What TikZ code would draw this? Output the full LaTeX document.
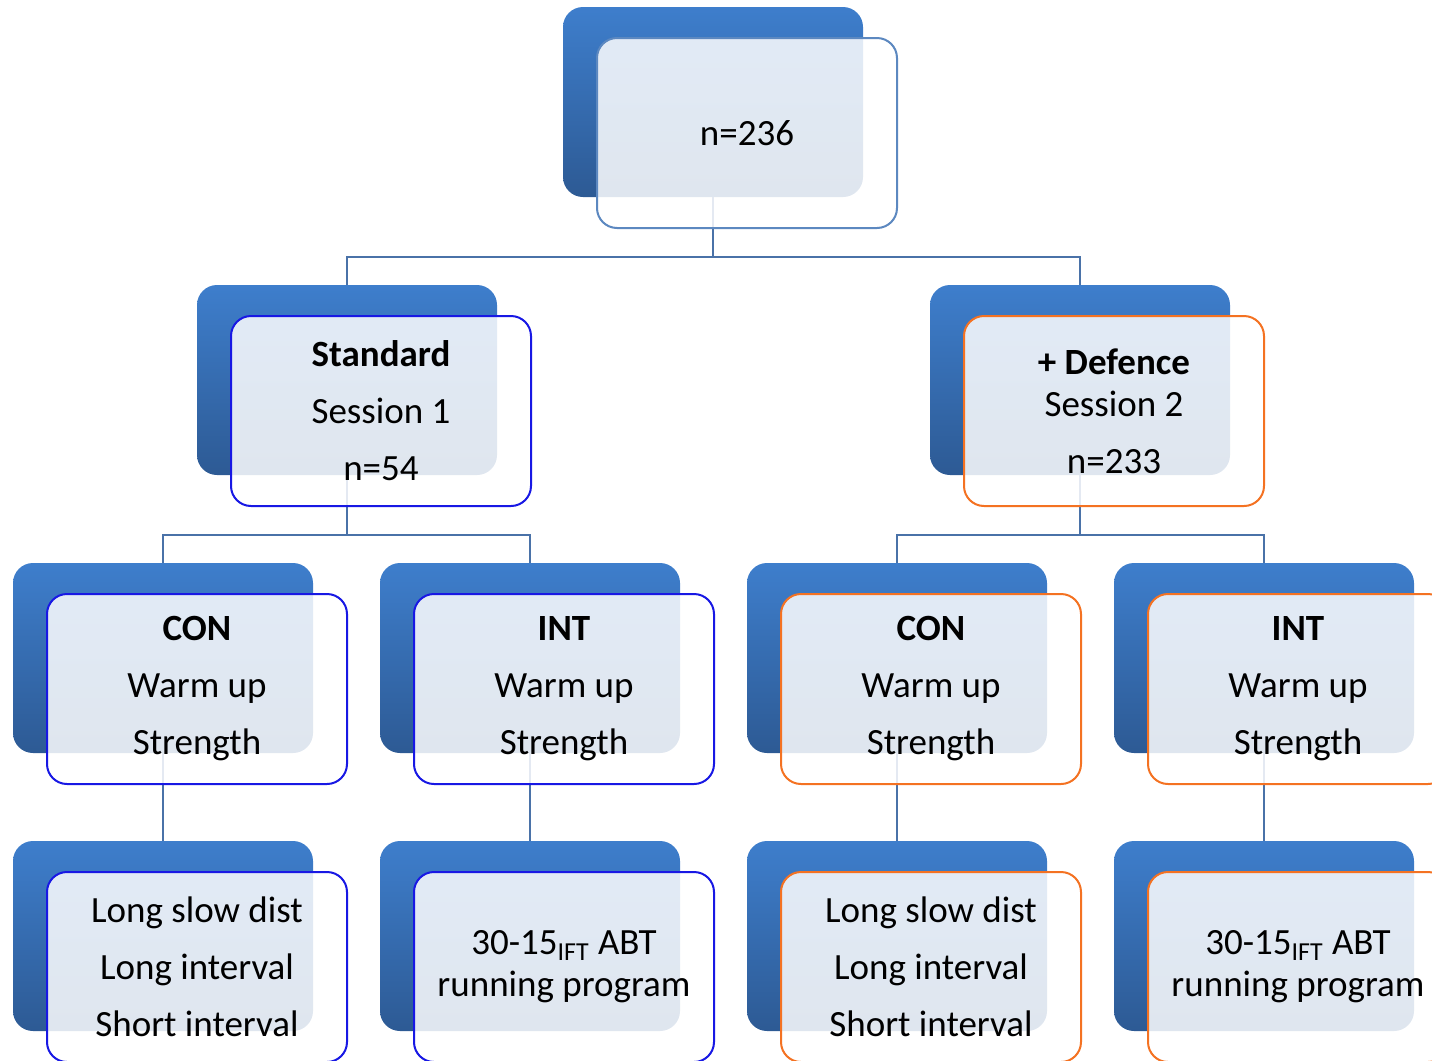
\documentclass[tikz,border=0pt]{standalone}
\usepackage{fontspec}
\setmainfont{Carlito}
\usetikzlibrary{calc}

\definecolor{boxtop}{RGB}{62,126,204}
\definecolor{boxbot}{RGB}{45,90,148}
\definecolor{linkblue}{RGB}{74,114,168}
\definecolor{stdblue}{RGB}{24,24,228}
\definecolor{deforange}{RGB}{244,114,34}
\definecolor{topblue}{RGB}{92,136,192}

\tikzset{
	backbox/.style = {rectangle, rounded corners = 10pt, minimum width = 150pt, minimum height = 95pt,
		top color = boxtop, bottom color = boxbot, draw = none, inner sep = 0pt},
	frontbox/.style = {rectangle, rounded corners = 10pt, minimum width = 150pt, minimum height = 95pt,
		draw = #1, line width = 1pt, fill = white, fill opacity = 0.85, text opacity = 1,
		align = center, font = \fontsize{18.5pt}{21pt}\selectfont, inner sep = 0pt},
	link/.style = {draw = linkblue, line width = 1pt}
}

\begin{document}
\begin{tikzpicture}[x = 0.5pt, y = -0.5pt]
	\useasboundingbox (0, 0) rectangle (1432, 1061);
	\clip (0, 0) rectangle (1432, 1061);
	
	% blue boxes behind
	\node[backbox] (all) at (713, 102) {};
	\node[backbox] (std) at (347, 380) {};
	\node[backbox] (def) at (1080, 380) {};
	\foreach \name/\xx in {stdcon/163, stdint/530, defcon/897, defint/1264} {
		\node[backbox] (\name) at (\xx, 658) {};
		\node[backbox] (\name2) at (\xx, 936) {};
	}
	
	% tree lines
	\draw[link] (all.south) -- ++(0, 60);
	\draw[link] (std.north) |- ($(all.south) + (0, 60)$) -| (def.north);
	\draw[link] (std.south) -- ++(0, 60);
	\draw[link] (stdcon.north) |- ($(std.south) + (0, 60)$) -| (stdint.north);
	\draw[link] (def.south) -- ++(0, 60);
	\draw[link] (defcon.north) |- ($(def.south) + (0, 60)$) -| (defint.north);
	\foreach \name in {stdcon, stdint, defcon, defint}
		\draw[link] (\name.south) -- (\name2.north);
	
	% boxes in front
	\node[frontbox = topblue] (allF) at ($(all) + (34, 31)$) {n=236};
	\node[frontbox = stdblue] (stdF) at ($(std) + (34, 31)$) {\textbf{Standard}\\[7.5pt] Session 1\\[7.5pt] n=54};
	\node[frontbox = deforange] (defF) at ($(def) + (34, 31)$) {\textbf{+ Defence}\\ Session 2\\[7.5pt] n=233};
	
	\node[frontbox = stdblue] (stdconF) at ($(stdcon) + (34, 31)$) {\textbf{CON}\\[7.5pt] Warm up\\[7.5pt] Strength};
	\node[frontbox = stdblue] (stdintF) at ($(stdint) + (34, 31)$) {\textbf{INT}\\[7.5pt] Warm up\\[7.5pt] Strength};
	\node[frontbox = deforange] (defconF) at ($(defcon) + (34, 31)$) {\textbf{CON}\\[7.5pt] Warm up\\[7.5pt] Strength};
	\node[frontbox = deforange] (defintF) at ($(defint) + (34, 31)$) {\textbf{INT}\\[7.5pt] Warm up\\[7.5pt] Strength};
	
	\node[frontbox = stdblue] (stdcon2F) at ($(stdcon2) + (34, 31)$) {Long slow dist\\[7.5pt] Long interval\\[7.5pt] Short interval};
	\node[frontbox = stdblue] (stdint2F) at ($(stdint2) + (34, 31)$) {30-15\textsubscript{IFT} ABT\\ running program};
	\node[frontbox = deforange] (defcon2F) at ($(defcon2) + (34, 31)$) {Long slow dist\\[7.5pt] Long interval\\[7.5pt] Short interval};
	\node[frontbox = deforange] (defint2F) at ($(defint2) + (34, 31)$) {30-15\textsubscript{IFT} ABT\\ running program};
\end{tikzpicture}
\end{document}
